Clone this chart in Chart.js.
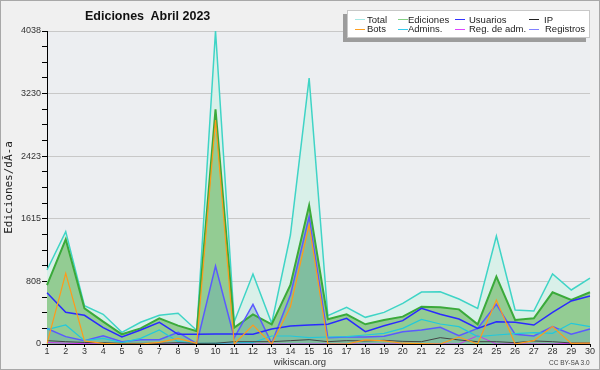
<!DOCTYPE html>
<html><head><meta charset="utf-8">
<script src="https://cdn.jsdelivr.net/npm/chart.js@4.4.0/dist/chart.umd.min.js"></script>
<style>
html,body{margin:0;padding:0;background:#f0f0f0;}
#wrap{position:relative;width:600px;height:370px;overflow:hidden;font-family:"Liberation Sans",Arial,sans-serif;background:#f0f0f0;}
canvas{position:absolute;left:0;top:0;}
#frame{position:absolute;left:0;top:0;width:600px;height:370px;box-sizing:border-box;border:1px solid #a8a8a8;pointer-events:none;}
#title{position:absolute;left:85px;top:10px;font-weight:bold;font-size:12.5px;line-height:12.5px;color:#111;white-space:pre;}
#legbox{position:absolute;left:347px;top:10px;width:243px;height:28px;box-sizing:border-box;background:#fff;border:1px solid #c8c8c8;box-shadow:-4px 4px 0 #9c9c9c;}
.li{position:absolute;font-size:9.5px;line-height:9.5px;color:#222;white-space:nowrap;}
.ll{position:absolute;height:1px;width:10px;}
#site{position:absolute;left:0;width:600px;text-align:center;top:357px;font-size:9.5px;line-height:9.5px;color:#333;}
#cc{position:absolute;left:549px;top:360px;font-size:6.5px;line-height:6.5px;color:#444;white-space:nowrap;}
</style></head>
<body>
<div id="wrap">
<canvas id="c" width="600" height="370"></canvas>
<div id="title">Ediciones  Abril 2023</div>
<div id="legbox"></div>
<div id="leg"></div>
<div id="site">wikiscan.org</div>
<div id="cc">CC BY-SA 3.0</div>
<div id="frame"></div>
</div>
<script>
const days = ['1','2','3','4','5','6','7','8','9','10','11','12','13','14','15','16','17','18','19','20','21','22','23','24','25','26','27','28','29','30'];
const yTickLabels = ['0','808','1615','2423','3230','4038'];
const yMax = 4038;

const total     = [955,1449,495,383,150,280,370,396,175,4038,288,903,267,1406,3431,365,473,344,408,525,670,675,580,460,1393,439,426,903,697,851];
const ediciones = [761,1350,460,288,125,202,331,237,165,3028,211,383,254,761,1790,320,383,254,310,353,482,473,447,254,869,310,331,667,568,667];
const usuarios  = [660,409,370,211,90,181,280,125,125,130,130,125,194,232,245,254,331,159,236,301,460,383,323,202,288,280,245,409,555,619];
const ip        = [43,30,20,17,8,8,10,17,8,10,30,30,30,43,56,30,43,39,47,34,30,82,52,30,30,17,39,30,13,13];
const bots      = [5,912,40,8,0,0,20,73,8,2890,0,245,0,481,1535,0,0,52,40,10,5,0,90,0,568,0,43,224,8,10];
const admins    = [185,245,43,73,17,73,180,30,9,9,17,17,103,103,82,90,95,116,138,202,318,258,224,95,116,133,146,138,267,224];
const regAdm    = [20,10,5,0,0,0,0,0,0,0,0,0,0,0,0,0,0,0,0,0,0,0,0,107,0,0,0,0,8,8];
const registros = [200,95,43,107,30,56,56,150,5,1006,80,512,10,632,1643,80,90,90,99,159,180,215,107,202,512,125,103,224,125,194];

const legendItems = [
  ['Total','#a6e8e4',355,367,0],['Ediciones','#84d084',398,408,0],['Usuarios','#3333ff',455,469,0],['IP','#222222',529,544,0],
  ['Bots','#ffa020',355,367,1],['Admins.','#33ccee',398,408,1],['Reg. de adm.','#dd44ff',455,469,1],['Registros','#8080ff',529,545,1]
];
const leg = document.getElementById('leg');
legendItems.forEach(([t,c,lx,tx,row])=>{
  const ly = row ? 29 : 19;
  const l = document.createElement('div'); l.className='ll'; l.style.left=lx+'px'; l.style.top=ly+'px'; l.style.background=c; leg.appendChild(l);
  const s = document.createElement('div'); s.className='li'; s.textContent=t; s.style.left=tx+'px'; s.style.top=(row?24.3:14.6)+'px'; leg.appendChild(s);
});

const yMajors = yTickLabels.map((_,i)=> yMax*i/(yTickLabels.length-1));
const yAll = [];
for (let i=0;i<yMajors.length;i++){ yAll.push(yMajors[i]); if(i<yMajors.length-1){ for(let k=1;k<4;k++) yAll.push(yMajors[i]+(yMajors[i+1]-yMajors[i])*k/4);} }

const bgPlugin = {id:'bg', beforeDraw(chart){const {ctx, chartArea:a}=chart; ctx.save(); ctx.fillStyle='#eceef1'; ctx.fillRect(a.left,a.top,a.right-a.left,a.bottom-a.top); ctx.restore();}};

function ds(label,data,color,width,extra){
  return Object.assign({label,data,borderColor:color,borderWidth:width,pointRadius:0,tension:0,fill:false,order:0},extra||{});
}

new Chart(document.getElementById('c'),{
  type:'line',
  data:{labels:days,datasets:[
    ds('Total',total,'#3fd4c6',1.5,{fill:'origin',backgroundColor:'#d9f0e9',order:10}),
    ds('Ediciones',ediciones,'#3aaa3a',2,{fill:'origin',backgroundColor:'#93cc93',order:9}),
    ds('Usuarios',usuarios,'#2a2aff',1.5,{order:3}),
    ds('IP',ip,'#444444',1,{order:4}),
    ds('Bots',bots,'#ff9a1a',1.2,{order:2}),
    ds('Admins.',admins,'#22c8dc',1.2,{order:5}),
    ds('Reg. de adm.',regAdm,'#cc33ee',1,{order:6}),
    ds('Registros',registros,'#5a5aff',1.5,{fill:'origin',backgroundColor:'rgba(95,164,186,0.35)',order:8})
  ]},
  options:{
    responsive:false,animation:false,devicePixelRatio:1,
    layout:{padding:{top:31,right:10,left:0,bottom:0}},
    plugins:{legend:{display:false},title:{display:false},tooltip:{enabled:false},filler:{drawTime:'beforeDatasetsDraw'}},
    scales:{
      x:{type:'category',offset:false,
        grid:{drawOnChartArea:false,tickLength:3,tickColor:'#000'},
        border:{display:true,color:'#000',width:1},
        ticks:{autoSkip:false,maxRotation:0,padding:-1,color:'#333',font:{family:'Liberation Sans',size:9}},
        afterFit(s){s.height=26;s.paddingLeft=0;s.paddingRight=0;}
      },
      y:{type:'linear',min:0,max:yMax,
        afterBuildTicks(s){s.ticks=yAll.map(v=>({value:v}));},
        grid:{color:(c)=> (c.index%4===0)?'#c8c8c8':'rgba(0,0,0,0)',tickColor:'#000',tickLength:5},
        border:{display:true,color:'#000',width:1},
        ticks:{autoSkip:false,padding:1,color:'#333',font:{family:'Liberation Sans',size:9},
          callback:(v,i)=> (i%4===0)? yTickLabels[i/4] : ''},
        title:{display:true,text:'Ediciones/dÃ-a',color:'#222',font:{family:'DejaVu Sans Mono',size:11},padding:{top:3,bottom:0}},
        afterFit(s){s.width=47;s.paddingTop=0;s.paddingBottom=0;}
      }
    }
  },
  plugins:[bgPlugin]
});
</script>
</body></html>
